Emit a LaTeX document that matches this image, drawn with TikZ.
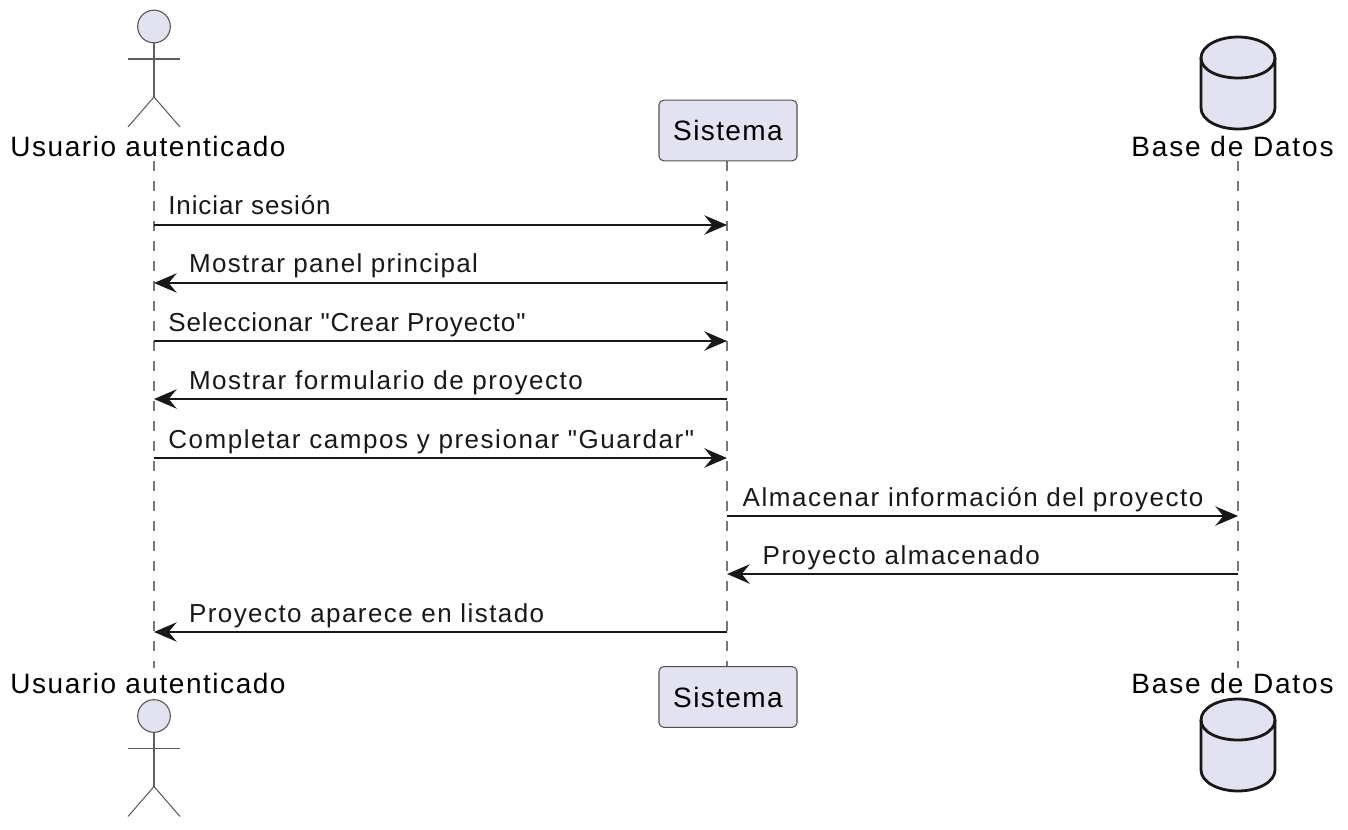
\documentclass[tikz,border=0pt]{standalone}
\usepackage{fontspec}
\setmainfont[LetterSpace=5,Ligatures=TeXOff]{Liberation Sans}
\usetikzlibrary{arrows.meta,positioning}
\definecolor{partfill}{HTML}{E2E2F0}
\definecolor{partline}{HTML}{181818}
\definecolor{lifegray}{HTML}{777777}
\newcommand{\spaced}[2]{{\addfontfeature{LetterSpace=#1}#2}}

\begin{document}
\begin{tikzpicture}[x=0.75pt, y=-0.75pt]
\tikzstyle{participant} = [rectangle, rounded corners=3.5pt, minimum width=103.5pt, minimum height=45.5pt, draw=partline!75, line width=0.8pt, fill=partfill, font=\fontsize{21}{25}\selectfont]
\tikzstyle{namelabel} = [inner sep=0pt, font=\fontsize{21}{25}\selectfont]
\tikzstyle{msglabel} = [inner sep=0pt, anchor=base west, yshift=7.5pt, font=\fontsize{19.5}{23}\selectfont, text=partline]
\tikzstyle{arrow} = [line width=1.6pt, draw=partline, -{Stealth[length=17pt, width=14.5pt, inset=6pt]}]
\tikzstyle{lifeline} = [line width=1.1pt, draw=lifegray, dash pattern=on 7.5pt off 7.5pt]
\tikzstyle{actorline} = [line width=0.8pt, draw=partline!70]
\tikzstyle{canline} = [line width=2.1pt, draw=partline, fill=partfill]

\useasboundingbox (0,0) rectangle (1348,830);

% lifelines
\coordinate (UserTop) at (154,161);
\coordinate (UserBot) at (154,668);
\coordinate (SysTop) at (727,161);
\coordinate (SysBot) at (727,667);
\coordinate (DBTop) at (1238,161);
\coordinate (DBBot) at (1238,668);
\draw [lifeline] (UserTop) -- (UserBot);
\draw [lifeline] (SysTop) -- (SysBot);
\draw [lifeline] (DBTop) -- (DBBot);

% participants
\node (SysHead) [participant] at (728,130.5) {Sistema};
\node (SysFoot) [participant] at (728,697) {Sistema};

\node (UserHead) [namelabel] at (148,146) {\spaced{5.5}{Usuario autenticado}};
\node (UserFoot) [namelabel] at (148,683) {\spaced{5.5}{Usuario autenticado}};
\node (DBHead) [namelabel] at (1232.5,146) {\spaced{6.6}{Base de Datos}};
\node (DBFoot) [namelabel] at (1232.5,683) {\spaced{6.6}{Base de Datos}};

% actors
\foreach \name/\dy in {ActorTop/0,ActorBot/689.5} {
  \node (\name) [circle, draw=partline!75, line width=0.8pt, fill=partfill, minimum size=24.5pt, inner sep=0pt] at (154,26.5+\dy) {};
  \coordinate (\name Hip) at (154,97+\dy);
  \draw [actorline] (\name.south) -- (\name Hip);
  \draw [actorline] (128,59+\dy) -- (180,59+\dy);
  \draw [actorline] (128,127+\dy) -- (\name Hip) -- (180,127+\dy);
}

% databases
\foreach \dy in {0,662} {
  \draw [canline] (1201,58+\dy) .. controls (1201,46+\dy) and (1218,37+\dy) .. (1238,37+\dy)
    .. controls (1258,37+\dy) and (1275,46+\dy) .. (1275,58+\dy)
    -- (1275,108+\dy) .. controls (1275,120+\dy) and (1258,129+\dy) .. (1238,129+\dy)
    .. controls (1218,129+\dy) and (1201,120+\dy) .. (1201,108+\dy) -- cycle;
  \draw [canline, fill=none] (1201,58+\dy) .. controls (1201,70+\dy) and (1218,78+\dy) .. (1238,78+\dy)
    .. controls (1258,78+\dy) and (1275,70+\dy) .. (1275,58+\dy);
}

% message rows
\foreach \i/\y in {1/225,2/283,3/341,4/399,5/458,6/516,7/574,8/632} {
  \coordinate (U\i) at (154,\y);
  \coordinate (S\i) at (727,\y);
  \coordinate (D\i) at (1238,\y);
}

\draw [arrow] (U1) -- node[msglabel, pos=0, xshift=10pt] {\spaced{3.4}{Iniciar sesión}} (S1);
\draw [arrow] (S2) -- node[msglabel, pos=1, xshift=25.5pt] {Mostrar panel principal} (U2);
\draw [arrow] (U3) -- node[msglabel, pos=0, xshift=10pt] {\spaced{3.2}{Seleccionar "Crear Proyecto"}} (S3);
\draw [arrow] (S4) -- node[msglabel, pos=1, xshift=25.5pt] {\spaced{5.9}{Mostrar formulario de proyecto}} (U4);
\draw [arrow] (U5) -- node[msglabel, pos=0, xshift=10pt] {\spaced{5.9}{Completar campos y presionar "Guardar"}} (S5);
\draw [arrow] (S6) -- node[msglabel, pos=0, xshift=11pt] {\spaced{5.9}{Almacenar información del proyecto}} (D6);
\draw [arrow] (D7) -- node[msglabel, pos=1, xshift=26pt] {\spaced{5.8}{Proyecto almacenado}} (S7);
\draw [arrow] (S8) -- node[msglabel, pos=1, xshift=25.5pt] {\spaced{5.5}{Proyecto aparece en listado}} (U8);
\end{tikzpicture}
\end{document}
